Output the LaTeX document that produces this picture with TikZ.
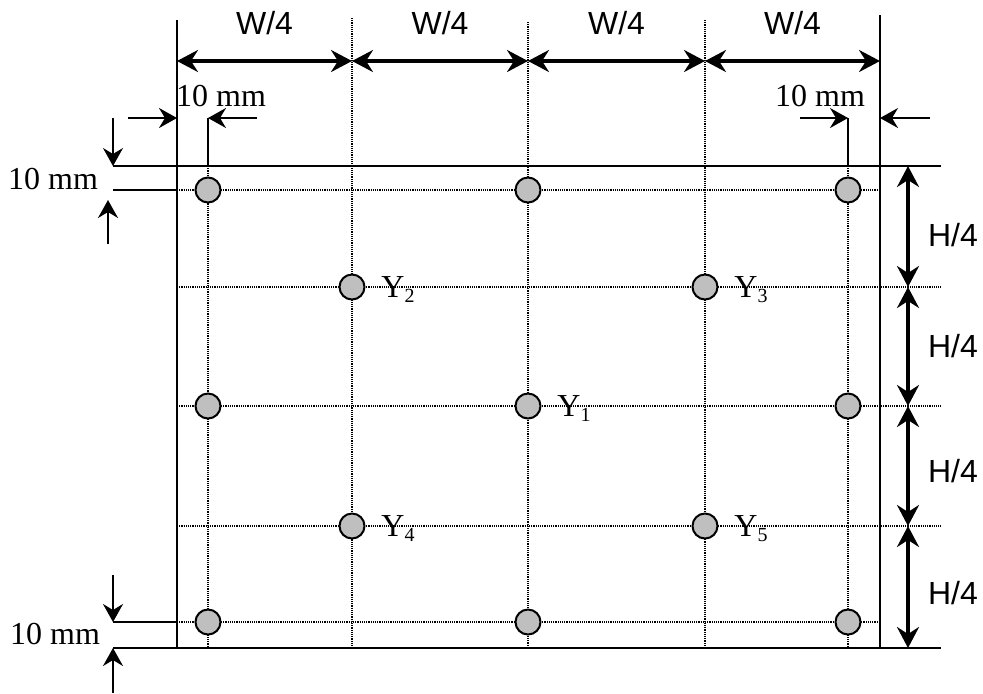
\documentclass[tikz,border=0pt]{standalone}
\usepackage{fontspec}
\setmainfont{Liberation Serif}
\newfontfamily\arialfont{Liberation Sans}
\usetikzlibrary{arrows.meta}

\tikzset{
  edge line/.style={line width=1pt},
  grid line/.style={line width=0.6pt, dash pattern=on 0.55pt off 0.55pt},
  dim arrow/.style={line width=1.6pt, {Stealth[length=10.5pt,width=11pt,inset=3.5pt]}-{Stealth[length=10.5pt,width=11pt,inset=3.5pt]}},
  mm arrow/.style={line width=1pt, -{Stealth[length=9pt,width=10pt,inset=3pt]}},
  hole/.style={circle, draw, line width=1pt, fill=black!25, minimum size=12.5pt, inner sep=0pt},
  dimtext/.style={font=\arialfont\fontsize{16}{18}\selectfont, inner sep=0pt},
  mmtext/.style={font=\fontsize{16}{18}\selectfont, inner sep=0pt},
}

\begin{document}
\begin{tikzpicture}[x=0.5pt, y=-0.5pt]
	%%%%% START %%%%%
	\useasboundingbox (0,0) rectangle (983,693);
	
	% dotted grid
	\draw[grid line] (177,190) -- (880,190);
	\draw[grid line] (177,287) -- (941,287);
	\draw[grid line] (177,406) -- (941,406);
	\draw[grid line] (177,526) -- (941,526);
	\draw[grid line] (177,622) -- (880,622);
	\draw[grid line] (208,166) -- (208,648);
	\draw[grid line] (352,18) -- (352,648);
	\draw[grid line] (528,22) -- (528,648);
	\draw[grid line] (705,20) -- (705,648);
	\draw[grid line] (848,166) -- (848,648);
	
	% plate outline and extension lines
	\draw[edge line] (177,20) -- (177,648);
	\draw[edge line] (880,15) -- (880,648);
	\draw[edge line] (113,166) -- (941,166);
	\draw[edge line] (113,648) -- (941,648);
	\draw[edge line] (113,190) -- (177,190);
	\draw[edge line] (113,622) -- (177,622);
	\draw[edge line] (208,118) -- (208,166);
	\draw[edge line] (848,118) -- (848,166);
	
	% W/4 dimensions
	\coordinate (w0) at (177,61);
	\coordinate (w1) at (352,61);
	\coordinate (w2) at (528,61);
	\coordinate (w3) at (705,61);
	\coordinate (w4) at (880,61);
	\draw[dim arrow] (w0) -- (w1);
	\draw[dim arrow] (w1) -- (w2);
	\draw[dim arrow] (w2) -- (w3);
	\draw[dim arrow] (w3) -- (w4);
	\node[dimtext] (wtext1) at (264.5,23) {W/4};
	\node[dimtext] (wtext2) at (440,23) {W/4};
	\node[dimtext] (wtext3) at (616.5,23) {W/4};
	\node[dimtext] (wtext4) at (792.5,23) {W/4};
	
	% H/4 dimensions
	\coordinate (h0) at (908,166);
	\coordinate (h1) at (908,287);
	\coordinate (h2) at (908,406);
	\coordinate (h3) at (908,526);
	\coordinate (h4) at (908,648);
	\draw[dim arrow] (h0) -- (h1);
	\draw[dim arrow] (h1) -- (h2);
	\draw[dim arrow] (h2) -- (h3);
	\draw[dim arrow] (h3) -- (h4);
	\node[dimtext] (htext1) at (953,235) {H/4};
	\node[dimtext] (htext2) at (953,346) {H/4};
	\node[dimtext] (htext3) at (953,471) {H/4};
	\node[dimtext] (htext4) at (953,593) {H/4};
	
	% 10 mm edge distances
	\coordinate (tl1) at (128,118);
	\coordinate (tl2) at (177,118);
	\coordinate (tl3) at (257,118);
	\coordinate (tl4) at (208,118);
	\draw[mm arrow] (tl1) -- (tl2);
	\draw[mm arrow] (tl3) -- (tl4);
	\node[mmtext] (mmtl) at (221,96) {10 mm};
	
	\coordinate (tr1) at (800,118);
	\coordinate (tr2) at (848,118);
	\coordinate (tr3) at (930,118);
	\coordinate (tr4) at (880,118);
	\draw[mm arrow] (tr1) -- (tr2);
	\draw[mm arrow] (tr3) -- (tr4);
	\node[mmtext] (mmtr) at (820,96) {10 mm};
	
	\coordinate (lt1) at (113,118);
	\coordinate (lt2) at (113,166);
	\coordinate (lt3) at (108,244);
	\coordinate (lt4) at (108,200);
	\draw[mm arrow] (lt1) -- (lt2);
	\draw[mm arrow] (lt3) -- (lt4);
	\node[mmtext] (mmlt) at (53,179) {10 mm};
	
	\coordinate (lb1) at (113,575);
	\coordinate (lb2) at (113,622);
	\coordinate (lb3) at (113,693);
	\coordinate (lb4) at (113,648);
	\draw[mm arrow] (lb1) -- (lb2);
	\draw[mm arrow] (lb3) -- (lb4);
	\node[mmtext] (mmlb) at (55,634) {10 mm};
	
	% holes
	\node[hole] (p1a) at (208,190) {};
	\node[hole] (p1c) at (528,190) {};
	\node[hole] (p1e) at (848,190) {};
	\node[hole] (p2b) at (352,287) {};
	\node[hole] (p2d) at (705,287) {};
	\node[hole] (p3a) at (208,406) {};
	\node[hole] (p3c) at (528,406) {};
	\node[hole] (p3e) at (848,406) {};
	\node[hole] (p4b) at (352,526) {};
	\node[hole] (p4d) at (705,526) {};
	\node[hole] (p5a) at (208,622) {};
	\node[hole] (p5c) at (528,622) {};
	\node[hole] (p5e) at (848,622) {};
	
	% hole labels
	\node[mmtext, anchor=base west] (y1) at (557,416.5) {Y\raisebox{-2.5pt}{\fontsize{10}{12}\selectfont 1}};
	\node[mmtext, anchor=base west] (y2) at (381,297.5) {Y\raisebox{-2.5pt}{\fontsize{10}{12}\selectfont 2}};
	\node[mmtext, anchor=base west] (y3) at (734,297.5) {Y\raisebox{-2.5pt}{\fontsize{10}{12}\selectfont 3}};
	\node[mmtext, anchor=base west] (y4) at (381,536.5) {Y\raisebox{-2.5pt}{\fontsize{10}{12}\selectfont 4}};
	\node[mmtext, anchor=base west] (y5) at (734,536.5) {Y\raisebox{-2.5pt}{\fontsize{10}{12}\selectfont 5}};
	
	%%%%% END %%%%%
\end{tikzpicture}
\end{document}
